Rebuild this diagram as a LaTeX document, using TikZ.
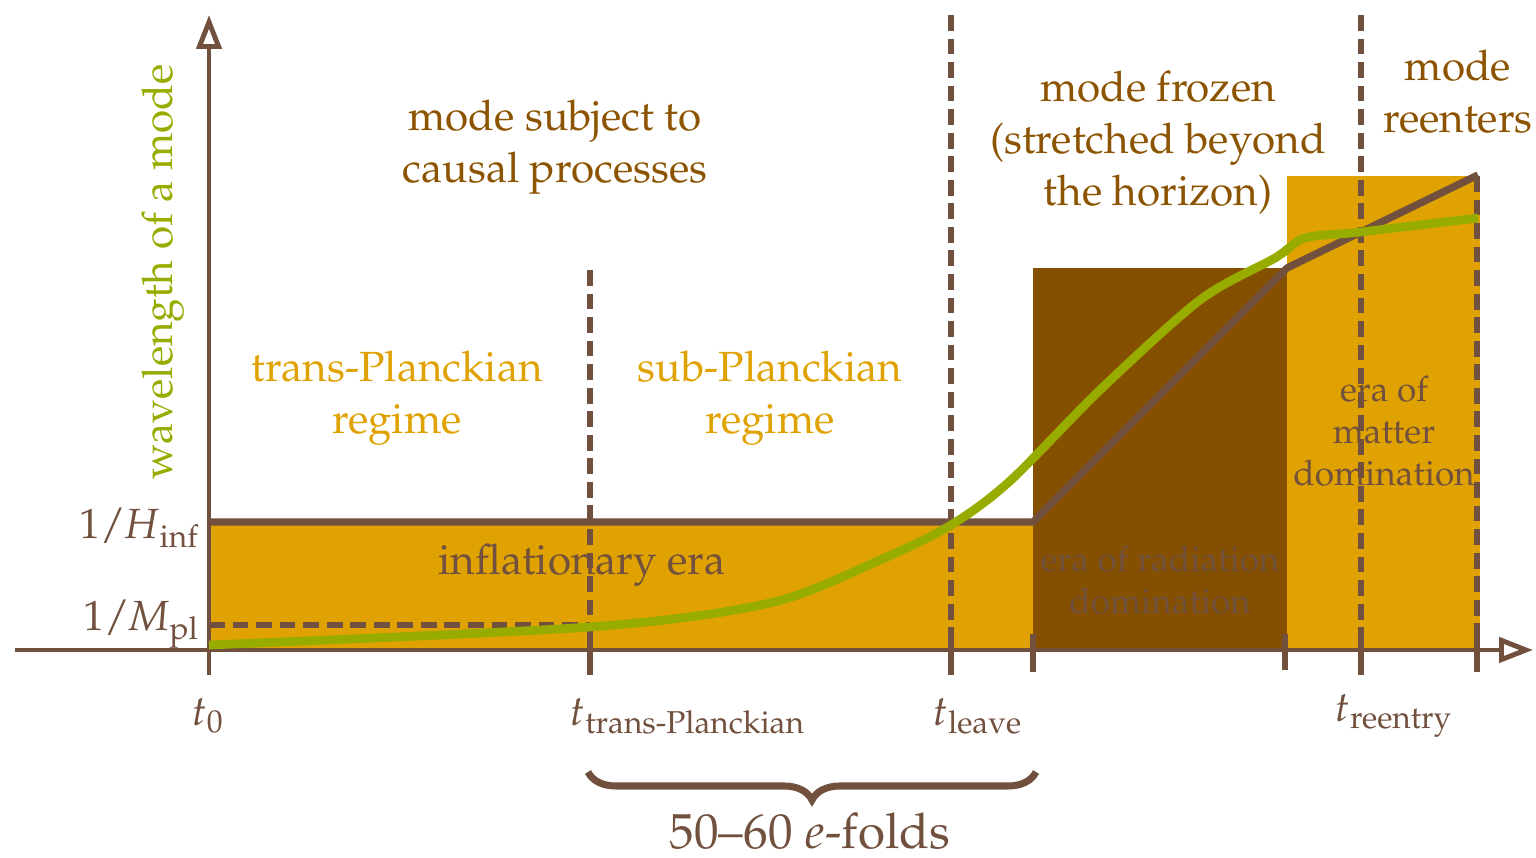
\documentclass[tikz,border=0pt]{standalone}
\usepackage[T1]{fontenc}
\usepackage{mathpazo}
\usepackage{amsmath}
\usetikzlibrary{arrows.meta,decorations.pathreplacing}

\definecolor{axisbrown}{RGB}{113,80,62}
\definecolor{eraorange}{RGB}{224,162,0}
\definecolor{radbrown}{RGB}{132,80,0}
\definecolor{notebrown}{RGB}{140,84,0}
\definecolor{modegreen}{RGB}{152,172,0}

\begin{document}
\begin{tikzpicture}
\tikzset{ >={Triangle[open,length=0.34cm,width=0.25cm]},
  every node/.style={font=\fontsize{12}{14.8}\selectfont, align=center},
  axis/.style={axisbrown, line width=1.4pt},
  tline/.style={axisbrown, line width=1.7pt, dash pattern=on 4.5pt off 2.2pt},
  tick/.style={axisbrown, line width=1.5pt},
  horizon/.style={axisbrown, line width=2.1pt, line join=round},
  mode/.style={modegreen, line width=2.5pt, line join=round},
  note/.style={text=notebrown},
  regime/.style={text=eraorange},
  era/.style={text=axisbrown},
  smallera/.style={text=axisbrown, font=\fontsize{10}{12}\selectfont},
}
\useasboundingbox (0,0) rectangle (15.36,8.58);

%\draw [lightgray, dashed](0,0) grid (15,8);

% eras
\fill [eraorange] (2.09,2.08) rectangle (10.33,3.36);
\fill [radbrown]  (10.33,2.08) rectangle (12.87,5.90);
\fill [eraorange] (12.87,2.08) rectangle (14.80,6.82);

% axes
\coordinate (xs) at (0.15,2.08);
\coordinate (xe) at (15.33,2.08);
\coordinate (ys) at (2.09,1.83);
\coordinate (ye) at (2.09,8.43);
\draw [axis,->] (xs) -- (xe);
\draw [axis,->] (ys) -- (ye);

% times
\coordinate (A1) at (5.90,5.88);  \coordinate (A0) at (5.90,1.83);
\coordinate (B1) at (9.51,8.43);  \coordinate (B0) at (9.51,1.83);
\coordinate (C1) at (13.61,8.43); \coordinate (C0) at (13.61,1.83);
\coordinate (D1) at (14.77,6.82); \coordinate (D0) at (14.77,1.86);
\draw [tline] (A1) -- (A0);
\draw [tline] (B1) -- (B0);
\draw [tline] (C1) -- (C0);
\draw [tline] (D1) -- (D0);
\draw [tick] (5.90,2.30) -- (5.90,1.83);
\draw [tick] (9.51,2.30) -- (9.51,1.83);
\draw [tick] (13.61,2.30) -- (13.61,1.83);
\draw [tick] (14.77,2.30) -- (14.77,1.86);
\draw [tick] (10.33,2.24) -- (10.33,1.86);
\draw [tick] (12.85,2.24) -- (12.85,1.88);

% Planck length
\coordinate (P0) at (2.09,2.33);
\coordinate (P1) at (5.90,2.33);
\draw [tline] (P0) -- (P1);

% Hubble radius
\coordinate (H0) at (2.09,3.36);
\coordinate (H1) at (10.33,3.36);
\coordinate (H2) at (12.87,5.90);
\coordinate (H3) at (14.78,6.83);
\draw [horizon] (H0) -- (H1) -- (H2) -- (H3);

% wavelength
\draw [mode] plot [smooth, tension=0.5] coordinates {(2.09,2.13) (5.90,2.31) (7.70,2.55)
  (8.80,2.98) (9.51,3.33) (10.10,3.77) (11.00,4.68) (12.00,5.58) (12.75,6.00)
  (13.05,6.20) (13.61,6.26) (14.78,6.40)};

\node [note] (causal) at (5.55,7.11) {mode subject to\\causal processes};
\node [note] (frozen) at (11.58,7.15) {mode frozen\\(stretched beyond\\the horizon)};
\node [note] (reent) at (14.58,7.66) {mode\\reenters};

\node [regime] (trans) at (3.97,4.60) {trans-Planckian\\regime};
\node [regime] (sub) at (7.70,4.60) {sub-Planckian\\regime};

\node [era] (infl) at (5.82,2.93) {inflationary era};
\node [smallera] (rad) at (11.60,2.78) {era of radiation\\domination};
\node [smallera] (mat) at (13.84,4.27) {era of\\matter\\domination};

\node [text=modegreen, rotate=90] (wl) at (1.63,5.86) {wavelength of a mode};

\node [anchor=east, text=axisbrown] (invH) at (2.12,3.30) {1/\textit{H}$_{\mathrm{inf}}$};
\node [anchor=east, text=axisbrown] (invM) at (2.12,2.34) {1/\textit{M}$_{\mathrm{pl}}$};

\node [text=axisbrown] (t0) at (2.08,1.42) {$t_0$};
\node [text=axisbrown] (ttp) at (6.88,1.42) {$t_{\text{trans-Planckian}}$};
\node [text=axisbrown] (tlv) at (9.78,1.42) {$t_{\text{leave}}$};
\node [text=axisbrown] (tre) at (13.94,1.42) {$t_{\text{reentry}}$};

% e-folds
\coordinate (bl) at (5.88,0.86);
\coordinate (br) at (10.36,0.86);
\draw [axisbrown, line width=2pt, decorate, decoration={brace, mirror, amplitude=0.28cm}] (bl) -- (br);
\node [text=axisbrown, font=\fontsize{14}{17}\selectfont] (ef) at (8.10,0.27) {50--60 $e$-folds};
\end{tikzpicture}
\end{document}
